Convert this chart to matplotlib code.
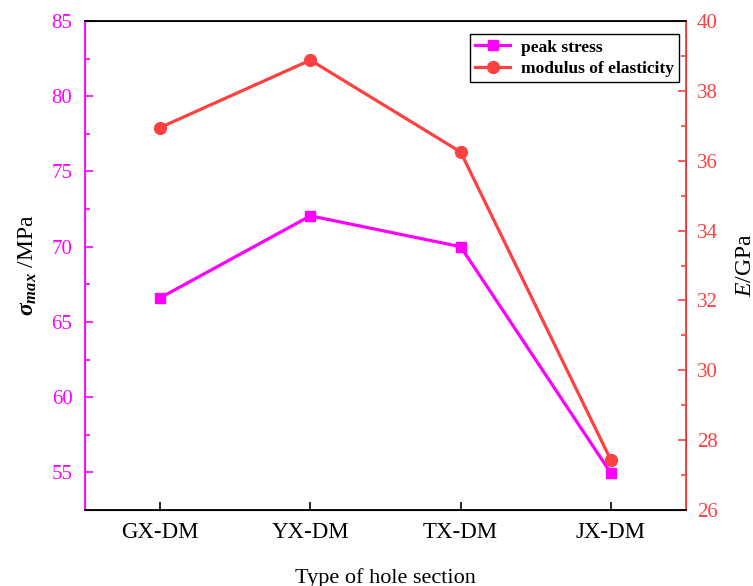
import numpy as np
import matplotlib.pyplot as plt
from matplotlib.ticker import MultipleLocator, AutoMinorLocator

plt.rcParams['font.family'] = ['Liberation Serif', 'DejaVu Serif']
plt.rcParams['mathtext.fontset'] = 'custom'
plt.rcParams['mathtext.rm'] = 'Liberation Serif'
plt.rcParams['mathtext.it'] = 'Liberation Serif:italic'
plt.rcParams['mathtext.bf'] = 'Liberation Serif:bold:italic'

types = ['GX-DM', 'YX-DM', 'TX-DM', 'JX-DM']
peak_stress = [66.6, 72.05, 70.0, 54.95]
modulus = [36.95, 38.88, 36.25, 27.43]

c1 = '#ff00ff'
c2 = '#ff4040'

fig = plt.figure(figsize=(7.53, 5.86), dpi=100)
ax = fig.add_axes([85/753, 1-510/586, (686-85)/753, (510-21)/586])
ax2 = ax.twinx()

x = np.arange(len(types))
l1, = ax.plot(x, peak_stress, color=c1, lw=2.3, marker='s', ms=7, label='peak stress')
l2, = ax2.plot(x, modulus, color=c2, lw=2.3, marker='o', ms=8.5, label='modulus of elasticity')

ax.set_xlim(-0.5, 3.5)
ax.set_ylim(52.5, 85)
ax2.set_ylim(26, 40)
ax.set_xticks(x)
ax.set_xticklabels(types, fontsize=16.5)
ax.yaxis.set_major_locator(MultipleLocator(5))
ax.yaxis.set_minor_locator(AutoMinorLocator(2))
ax2.yaxis.set_major_locator(MultipleLocator(2))
ax2.yaxis.set_minor_locator(AutoMinorLocator(2))

ax.tick_params(axis='x', direction='in', length=6, width=1.2, pad=9)
ax.tick_params(axis='y', which='major', direction='in', length=6, width=1.2, colors=c1, labelsize=15, pad=9)
ax.tick_params(axis='y', which='minor', direction='in', length=3.5, width=1.2, colors=c1)
ax2.tick_params(axis='y', which='major', direction='in', length=6, width=1.2, colors=c2, labelsize=15, pad=8)
ax2.tick_params(axis='y', which='minor', direction='in', length=3.5, width=1.2, colors=c2)

for s in ax2.spines.values():
    s.set_linewidth(1.3)
ax2.spines['left'].set_color(c1)
ax2.spines['right'].set_color(c2)
ax.spines['left'].set_color(c1)

ax.set_xlabel('Type of hole section', fontsize=16, labelpad=18)
ax.set_ylabel(r'$\mathbf{\sigma_{max}}$ /MPa', fontsize=17, labelpad=9)
ax2.set_ylabel(r'$E$/GPa', fontsize=17, rotation=90, labelpad=12)

leg = ax2.legend([l1, l2], ['peak stress', 'modulus of elasticity'], loc='upper right',
                 prop={'weight': 'bold', 'size': 12.5}, fancybox=False, edgecolor='black',
                 framealpha=1, borderpad=0.3, handlelength=2.0, handletextpad=0.6,
                 labelspacing=0.3, borderaxespad=0, bbox_to_anchor=(0.988, 0.973))
leg.get_frame().set_linewidth(1.0)

fig.savefig('out.png', dpi=100)
